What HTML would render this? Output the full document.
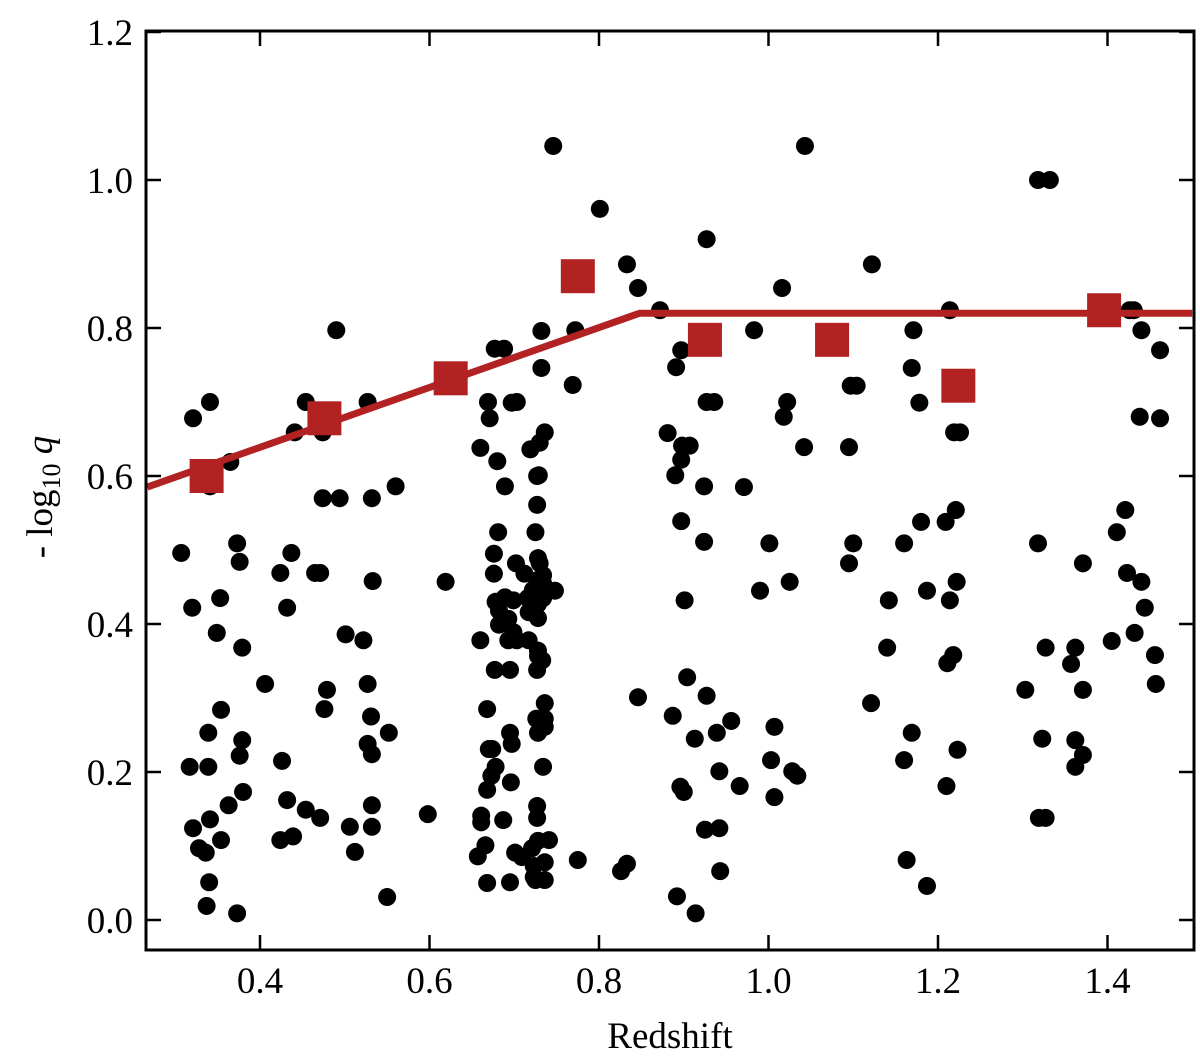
<!DOCTYPE html>
<html><head><meta charset="utf-8"><style>
html,body{margin:0;padding:0;background:#fff;}
svg{display:block;font-family:"Liberation Serif",serif;}
</style></head><body>
<svg id="chart" width="1200" height="1059" viewBox="0 0 1200 1059" xmlns="http://www.w3.org/2000/svg">
<rect width="1200" height="1059" fill="#fff"/>
<g id="plot"></g>
<text x="670" y="1048" font-size="37" text-anchor="middle">Redshift</text>
<text transform="translate(52,497) rotate(-90)" font-size="37" text-anchor="middle">- log<tspan font-size="26" dy="8">10</tspan><tspan dy="-8" font-style="italic"> q</tspan></text>
</svg>
<script>
const pointsZ=[0.307,0.321,0.320,0.317,0.321,0.328,0.336,0.339,0.339,0.341,0.341,0.341,0.340,0.337,0.349,0.353,0.354,0.354,0.363,0.365,0.373,0.373,0.376,0.379,0.379,0.376,0.380,0.406,0.424,0.426,0.424,0.432,0.432,0.437,0.439,0.441,0.454,0.454,0.465,0.471,0.471,0.474,0.476,0.479,0.474,0.494,0.501,0.490,0.506,0.512,0.522,0.527,0.532,0.527,0.527,0.531,0.532,0.532,0.532,0.533,0.550,0.552,0.560,0.598,0.619,
0.657,0.660,0.660,0.661,0.661,0.666,0.668,0.668,0.668,0.669,0.671,0.670,0.674,0.673,0.676,0.676,0.677,0.678,0.678,0.677,0.688,0.680,0.681,0.682,0.682,0.689,0.687,0.689,0.693,0.693,0.695,0.696,0.695,0.695,0.697,0.699,0.699,0.697,0.701,0.702,0.703,0.703,0.709,0.712,0.719,0.716,0.717,0.717,0.721,0.722,0.722,0.723,0.723,0.725,0.727,0.727,0.725,0.727,0.728,0.728,0.728,0.728,0.728,0.728,0.727,0.726,0.728,0.727,0.727,0.728,0.729,0.730,0.732,0.732,0.730,0.734,0.734,0.734,0.733,0.734,0.736,0.736,0.736,0.736,0.736,0.736,0.741,0.748,0.746,0.769,0.772,0.775,0.801,0.826,0.833,0.833,0.846,0.846,
0.872,0.881,0.887,0.890,0.891,0.892,0.896,0.897,0.897,0.897,0.898,0.901,0.900,0.904,0.907,0.913,0.914,0.925,0.924,0.924,0.927,0.927,0.927,0.936,0.939,0.942,0.942,0.943,0.956,0.966,0.971,0.983,0.990,1.001,1.007,1.003,1.007,1.016,1.018,1.022,1.025,1.028,1.034,1.042,1.043,1.095,1.097,1.104,1.095,1.100,1.121,1.122,1.140,1.142,1.160,1.160,1.163,1.169,1.169,1.171,1.178,1.180,1.187,1.187,1.209,1.214,1.218,1.219,1.226,1.221,1.222,1.214,1.211,1.223,1.210,
1.303,1.318,1.332,1.318,1.327,1.323,1.319,1.327,1.357,1.362,1.362,1.362,1.371,1.371,1.371,1.405,1.411,1.421,1.423,1.426,1.431,1.432,1.440,1.438,1.440,1.444,1.456,1.457,1.462,1.462];
const pointsQ=[0.496,0.678,0.422,0.207,0.124,0.097,0.091,0.207,0.253,0.700,0.586,0.136,0.051,0.019,0.388,0.435,0.284,0.108,0.155,0.619,0.509,0.009,0.484,0.368,0.243,0.222,0.173,0.319,0.469,0.215,0.108,0.422,0.162,0.496,0.113,0.659,0.700,0.149,0.469,0.469,0.138,0.659,0.285,0.311,0.570,0.570,0.386,0.797,0.126,0.092,0.378,0.700,0.570,0.319,0.238,0.275,0.224,0.155,0.126,0.458,0.031,0.253,0.586,0.143,0.457,
0.086,0.638,0.378,0.141,0.132,0.101,0.050,0.285,0.176,0.700,0.678,0.231,0.231,0.195,0.468,0.495,0.338,0.430,0.207,0.772,0.772,0.620,0.524,0.418,0.399,0.586,0.135,0.436,0.407,0.378,0.051,0.186,0.338,0.253,0.238,0.432,0.389,0.699,0.091,0.482,0.700,0.378,0.085,0.468,0.636,0.435,0.416,0.378,0.097,0.446,0.432,0.073,0.058,0.054,0.600,0.561,0.524,0.459,0.489,0.446,0.427,0.408,0.364,0.357,0.338,0.272,0.253,0.154,0.138,0.107,0.601,0.645,0.796,0.746,0.482,0.466,0.455,0.435,0.351,0.207,0.293,0.272,0.261,0.078,0.054,0.659,0.108,0.445,1.046,0.723,0.797,0.081,0.961,0.066,0.886,0.076,0.854,0.301,
0.824,0.658,0.276,0.601,0.747,0.032,0.180,0.539,0.622,0.770,0.641,0.432,0.173,0.328,0.641,0.245,0.009,0.122,0.586,0.511,0.920,0.700,0.303,0.700,0.253,0.124,0.201,0.066,0.269,0.181,0.585,0.797,0.445,0.509,0.261,0.216,0.166,0.854,0.680,0.700,0.457,0.201,0.195,0.639,1.046,0.639,0.722,0.722,0.482,0.509,0.293,0.886,0.368,0.432,0.509,0.216,0.081,0.253,0.746,0.797,0.699,0.538,0.445,0.046,0.538,0.824,0.358,0.659,0.659,0.554,0.457,0.432,0.347,0.230,0.181,
0.311,1.000,1.000,0.509,0.368,0.245,0.138,0.138,0.346,0.368,0.243,0.207,0.223,0.311,0.482,0.377,0.524,0.554,0.469,0.824,0.824,0.388,0.457,0.680,0.797,0.422,0.358,0.319,0.770,0.678];
const binZ=[0.337,0.476,0.625,0.775,0.925,1.075,1.224,1.396];
const binQ=[0.600,0.678,0.732,0.870,0.784,0.784,0.722,0.824];
const fitZ=[0.267,0.848,1.5];
const fitQ=[0.585,0.820,0.820];
const xTicks=[0.4,0.6,0.8,1.0,1.2,1.4];
const yTicks=[0.0,0.2,0.4,0.6,0.8,1.0,1.2];

const NS="http://www.w3.org/2000/svg";
const L=146,R=1194,T=31,B=950;
const X=v=>260+(v-0.4)*847.5;
const Y=v=>920-v*740;
const g=document.getElementById('plot');
function mk(t,a){const e=document.createElementNS(NS,t);for(const k in a)e.setAttribute(k,a[k]);g.appendChild(e);return e;}
for(let i=0;i<pointsZ.length;i++){
 const c=mk('circle',{cx:X(pointsZ[i]),cy:Y(pointsQ[i]),r:9,fill:'#000'});
 
 
}
const fl=mk('polyline',{points:fitZ.map((z,i)=>X(z)+','+Y(fitQ[i])).join(' '),fill:'none',stroke:'#b22222','stroke-width':7,'clip-path':'url(#clip)'});


for(let i=0;i<binZ.length;i++){
 const s=mk('rect',{x:X(binZ[i])-17,y:Y(binQ[i])-17,width:34,height:34,fill:'#b22222'});
 
 
}
const defs=document.createElementNS(NS,'defs');defs.innerHTML='<clipPath id="clip"><rect x="146" y="31" width="1048" height="919"/></clipPath>';document.getElementById('chart').prepend(defs);
const frame=mk('rect',{x:L,y:T,width:R-L,height:B-T,fill:'none',stroke:'#000','stroke-width':3});


xTicks.forEach(v=>{
 mk('line',{x1:X(v),x2:X(v),y1:B,y2:B-15,stroke:'#000','stroke-width':2.5});
 mk('line',{x1:X(v),x2:X(v),y1:T,y2:T+15,stroke:'#000','stroke-width':2.5});
 const t=mk('text',{x:X(v),y:993,'font-size':37,'text-anchor':'middle'});t.textContent=v.toFixed(1);
 
 
});
yTicks.forEach(v=>{
 mk('line',{x1:L,x2:L+15,y1:Y(v),y2:Y(v),stroke:'#000','stroke-width':2.5});
 mk('line',{x1:R,x2:R-15,y1:Y(v),y2:Y(v),stroke:'#000','stroke-width':2.5});
 const t=mk('text',{x:133,y:Y(v)+13,'font-size':37,'text-anchor':'end'});t.textContent=v.toFixed(1);
 
 
});
</script>
</body></html>
